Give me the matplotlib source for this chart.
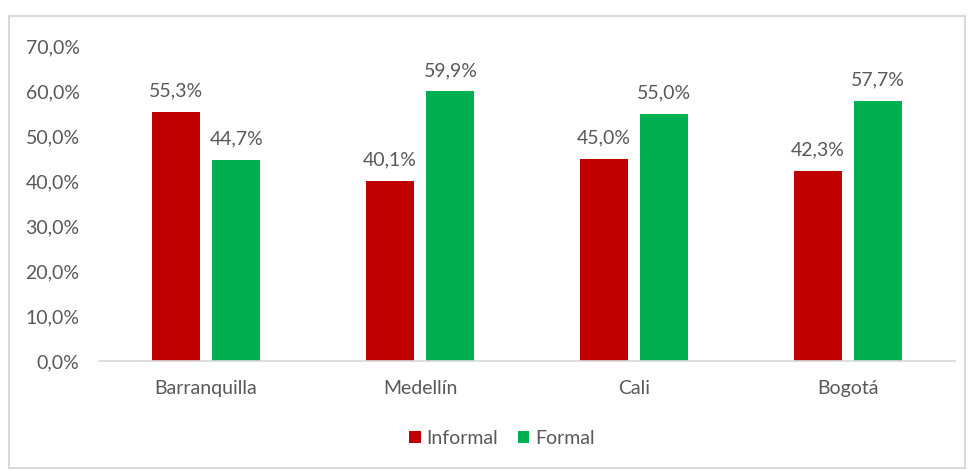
import matplotlib
matplotlib.use("Agg")
import matplotlib.pyplot as plt
from matplotlib.patches import Rectangle
import numpy as np

categories = ["Barranquilla", "Medellín", "Cali", "Bogotá"]
informal = [55.3, 40.1, 45.0, 42.3]
formal = [44.7, 59.9, 55.0, 57.7]
yticks = [0, 10, 20, 30, 40, 50, 60, 70]

RED = "#C00000"
GREEN = "#00B050"
TXT = "#595959"

plt.rcParams['font.family'] = ['Lato', 'DejaVu Sans']

fig = plt.figure(figsize=(9.69, 4.70), dpi=100)
ax = fig.add_axes([0.1022, 0.2319, 0.8833, 0.6702])

x = np.arange(len(categories))
w = 0.224
off = 0.142
b1 = ax.bar(x - off, informal, w, color=RED, label="Informal")
b2 = ax.bar(x + off, formal, w, color=GREEN, label="Formal")

def fmt(v):
    return f"{v:.1f}%".replace(".", ",")

FS = 14
for bars, vals in ((b1, informal), (b2, formal)):
    for r, v in zip(bars, vals):
        ax.annotate(fmt(v), (r.get_x() + r.get_width() / 2, v), xytext=(0, 9),
                    textcoords="offset points", ha="center", va="bottom",
                    fontsize=FS, color=TXT)

ax.set_xlim(-0.5, len(categories) - 0.5)
ax.set_ylim(0, 70)
ax.set_yticks(yticks)
ax.set_yticklabels([fmt(v) for v in yticks], fontsize=FS, color=TXT)
ax.set_xticks(x)
ax.set_xticklabels(categories, fontsize=FS, color=TXT)
ax.tick_params(axis="both", length=0)
ax.tick_params(axis="y", pad=14)
ax.tick_params(axis="x", pad=14)
for s in ("top", "right", "left"):
    ax.spines[s].set_visible(False)
ax.spines["bottom"].set_color("#D9D9D9")
ax.spines["bottom"].set_linewidth(1.2)

leg = fig.legend(handles=[b1, b2], labels=["Informal", "Formal"], loc="center",
                 bbox_to_anchor=(0.518, 0.068), ncol=2, frameon=False,
                 fontsize=FS, handlelength=0.6, handleheight=0.6,
                 handletextpad=0.3, columnspacing=1.0)
for t in leg.get_texts():
    t.set_color(TXT)

fig.patches.append(Rectangle((9 / 969, 2 / 470), (965 - 9) / 969, (454 - 2) / 470,
                             transform=fig.transFigure, fill=False,
                             edgecolor="#D9D9D9", linewidth=1.5))

fig.savefig("out.png", dpi=100)
